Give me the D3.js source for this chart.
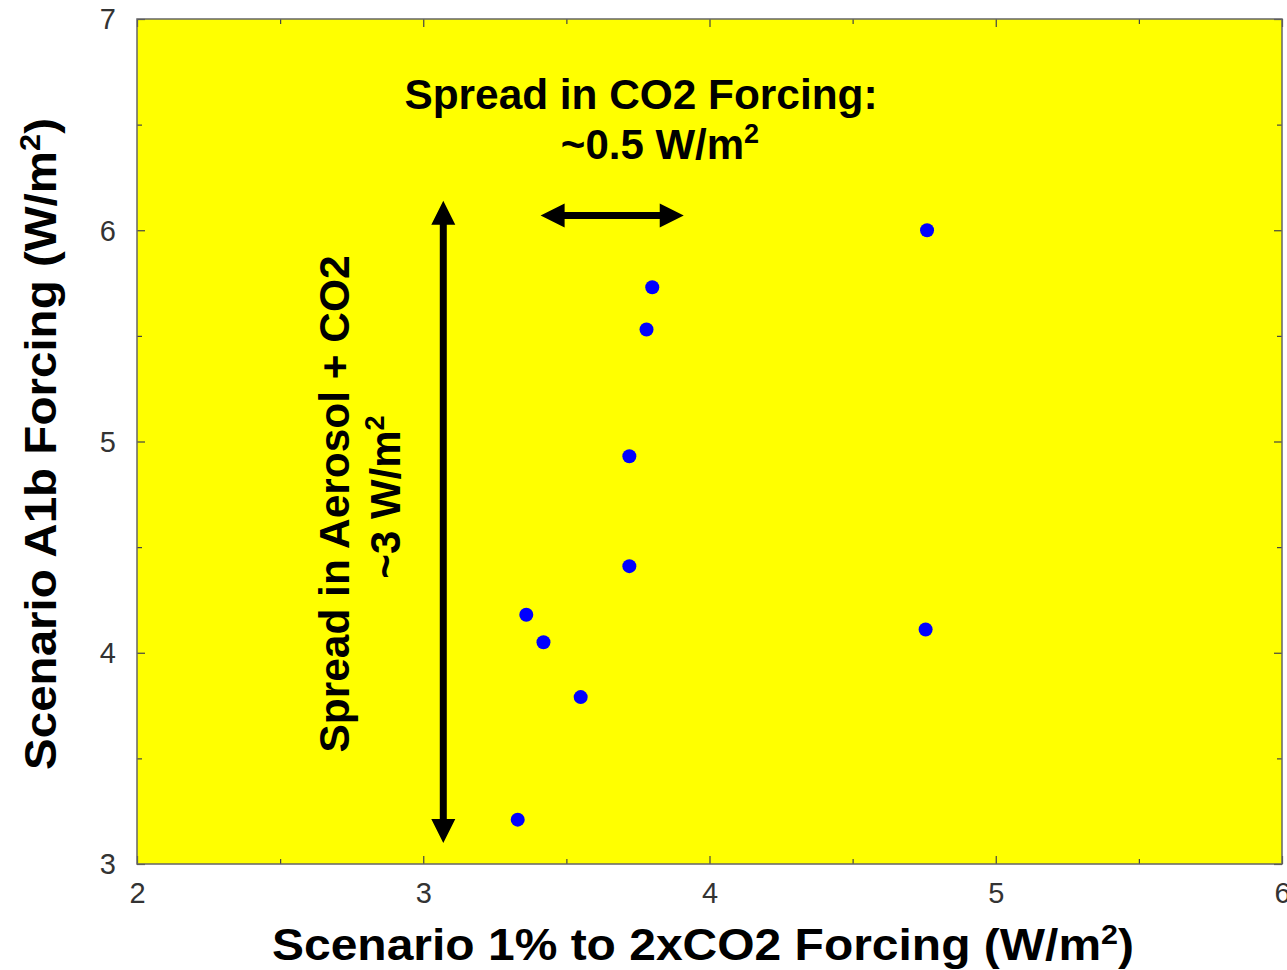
<!DOCTYPE html>
<html>
<head>
<meta charset="utf-8">
<script src="https://cdn.jsdelivr.net/npm/d3@7"></script>
<style>
  html, body { margin: 0; padding: 0; background: #ffffff; }
  svg { display: block; }
  text { font-family: "Liberation Sans", Arial, Helvetica, sans-serif; }
</style>
</head>
<body>
<svg id="chart" width="1287" height="970"></svg>
<script>
// Model forcing: 1% to 2xCO2 forcing vs. A1b scenario forcing (W/m^2)
const co2Forcing = [4.76, 3.80, 3.78, 3.72, 3.72, 3.36, 3.42, 3.55, 3.33, 4.755];
const a1bForcing = [6.00, 5.73, 5.53, 4.93, 4.41, 4.18, 4.05, 3.79, 3.21, 4.11];

const xTicks = [2, 3, 4, 5, 6];
const yTicks = [3, 4, 5, 6, 7];
const xMinorTicks = [2.5, 3.5, 4.5, 5.5];
const yMinorTicks = [3.5, 4.5, 5.5, 6.5];

// Spread arrows, in data units
const verticalArrow = { x: 3.07, y0: 3.10, y1: 6.14 };
const horizontalArrow = { y: 6.07, x0: 3.41, x1: 3.91 };

const svg = d3.select("#chart");
const plot = { left: 137, top: 19, right: 1282, bottom: 864 };

const x = d3.scaleLinear().domain([2, 6]).range([plot.left, plot.right]);
const y = d3.scaleLinear().domain([3, 7]).range([plot.bottom, plot.top]);

// Plot background
svg.append("rect")
  .attr("x", plot.left).attr("y", plot.top)
  .attr("width", plot.right - plot.left).attr("height", plot.bottom - plot.top)
  .attr("fill", "#ffff00");

// Inward ticks on all four sides
const tickColor = "#444";
function addAxis(axis, transform, cls) {
  const g = svg.append("g").attr("class", cls).attr("transform", transform).call(axis);
  g.select(".domain").remove();
  g.selectAll("line").attr("stroke", tickColor).attr("stroke-width", 1.2);
  return g;
}
const majorLen = -8, minorLen = -5;
const bottomAxis = addAxis(d3.axisBottom(x).tickValues(xTicks).tickSize(majorLen).tickFormat(d3.format("d")),
  `translate(0,${plot.bottom})`, "x-axis");
bottomAxis.selectAll("text")
  .attr("font-size", 29).attr("fill", "#333").attr("y", 18).attr("dy", "0.71em");
addAxis(d3.axisBottom(x).tickValues(xMinorTicks).tickSize(minorLen).tickFormat(""), `translate(0,${plot.bottom})`, "x-minor");
addAxis(d3.axisTop(x).tickValues(xTicks).tickSize(majorLen).tickFormat(""), `translate(0,${plot.top})`, "x-top");
addAxis(d3.axisTop(x).tickValues(xMinorTicks).tickSize(minorLen).tickFormat(""), `translate(0,${plot.top})`, "x-top-minor");

const leftAxis = addAxis(d3.axisLeft(y).tickValues(yTicks).tickSize(majorLen).tickFormat(d3.format("d")),
  `translate(${plot.left},0)`, "y-axis");
leftAxis.selectAll("text")
  .attr("font-size", 29).attr("fill", "#333").attr("x", -21).attr("dy", "0.34em");
addAxis(d3.axisLeft(y).tickValues(yMinorTicks).tickSize(minorLen).tickFormat(""), `translate(${plot.left},0)`, "y-minor");
addAxis(d3.axisRight(y).tickValues(yTicks).tickSize(majorLen).tickFormat(""), `translate(${plot.right},0)`, "y-right");
addAxis(d3.axisRight(y).tickValues(yMinorTicks).tickSize(minorLen).tickFormat(""), `translate(${plot.right},0)`, "y-right-minor");

// Frame
svg.append("rect")
  .attr("x", plot.left).attr("y", plot.top)
  .attr("width", plot.right - plot.left).attr("height", plot.bottom - plot.top)
  .attr("fill", "none").attr("stroke", "#666").attr("stroke-width", 1.5);

// Double-headed arrows drawn as filled polygons
function doubleArrow(x0, y0, x1, y1, shaft, headW, headL) {
  const dx = x1 - x0, dy = y1 - y0, len = Math.hypot(dx, dy);
  const ux = dx / len, uy = dy / len, nx = -uy, ny = ux;
  const p = (along, across) => [x0 + ux * along + nx * across, y0 + uy * along + ny * across];
  const hs = shaft / 2, hh = headW / 2;
  return [
    p(0, 0), p(headL, hh), p(headL, hs), p(len - headL, hs), p(len - headL, hh),
    p(len, 0), p(len - headL, -hh), p(len - headL, -hs), p(headL, -hs), p(headL, -hh)
  ];
}
const line = d3.line();
svg.append("path")
  .attr("d", line(doubleArrow(x(verticalArrow.x), y(verticalArrow.y1), x(verticalArrow.x), y(verticalArrow.y0), 7, 24, 24)) + "Z")
  .attr("fill", "#000");
svg.append("path")
  .attr("d", line(doubleArrow(x(horizontalArrow.x0), y(horizontalArrow.y), x(horizontalArrow.x1), y(horizontalArrow.y), 7, 24, 24)) + "Z")
  .attr("fill", "#000");

// Data points
svg.append("g").selectAll("circle")
  .data(co2Forcing.map((v, i) => [v, a1bForcing[i]]))
  .join("circle")
  .attr("cx", d => x(d[0]))
  .attr("cy", d => y(d[1]))
  .attr("r", 7)
  .attr("fill", "#0000ff");

// Annotations
const ann = svg.append("g").attr("font-weight", "bold").attr("fill", "#000");
ann.append("text")
  .attr("x", 641).attr("y", 109).attr("text-anchor", "middle").attr("font-size", 42)
  .attr("textLength", 473).attr("lengthAdjust", "spacingAndGlyphs")
  .text("Spread in CO2 Forcing:");
const t2 = ann.append("text")
  .attr("x", 660).attr("y", 159).attr("text-anchor", "middle").attr("font-size", 42);
t2.append("tspan").text("~0.5 W/m");
t2.append("tspan").attr("font-size", 27).attr("dy", -16).text("2");

ann.append("text")
  .attr("transform", "translate(349,504) rotate(-90)")
  .attr("text-anchor", "middle").attr("font-size", 42)
  .attr("textLength", 497).attr("lengthAdjust", "spacingAndGlyphs")
  .text("Spread in Aerosol + CO2");
const t4 = ann.append("text")
  .attr("transform", "translate(400,497) rotate(-90)")
  .attr("text-anchor", "middle").attr("font-size", 42);
t4.append("tspan").text("~3 W/m");
t4.append("tspan").attr("font-size", 27).attr("dy", -16).text("2");

// Axis titles
const xt = svg.append("text")
  .attr("x", 703).attr("y", 960).attr("text-anchor", "middle")
  .attr("font-size", 44).attr("font-weight", "bold")
  .attr("textLength", 862).attr("lengthAdjust", "spacingAndGlyphs");
xt.append("tspan").text("Scenario 1% to 2xCO2 Forcing (W/m");
xt.append("tspan").attr("font-size", 28).attr("dy", -16).text("2");
xt.append("tspan").attr("dy", 16).text(")");

const yt = svg.append("text")
  .attr("transform", "translate(56,444) rotate(-90)").attr("text-anchor", "middle")
  .attr("font-size", 45).attr("font-weight", "bold")
  .attr("textLength", 652).attr("lengthAdjust", "spacingAndGlyphs");
yt.append("tspan").text("Scenario A1b Forcing (W/m");
yt.append("tspan").attr("font-size", 29).attr("dy", -16).text("2");
yt.append("tspan").attr("dy", 16).text(")");
</script>
</body>
</html>
